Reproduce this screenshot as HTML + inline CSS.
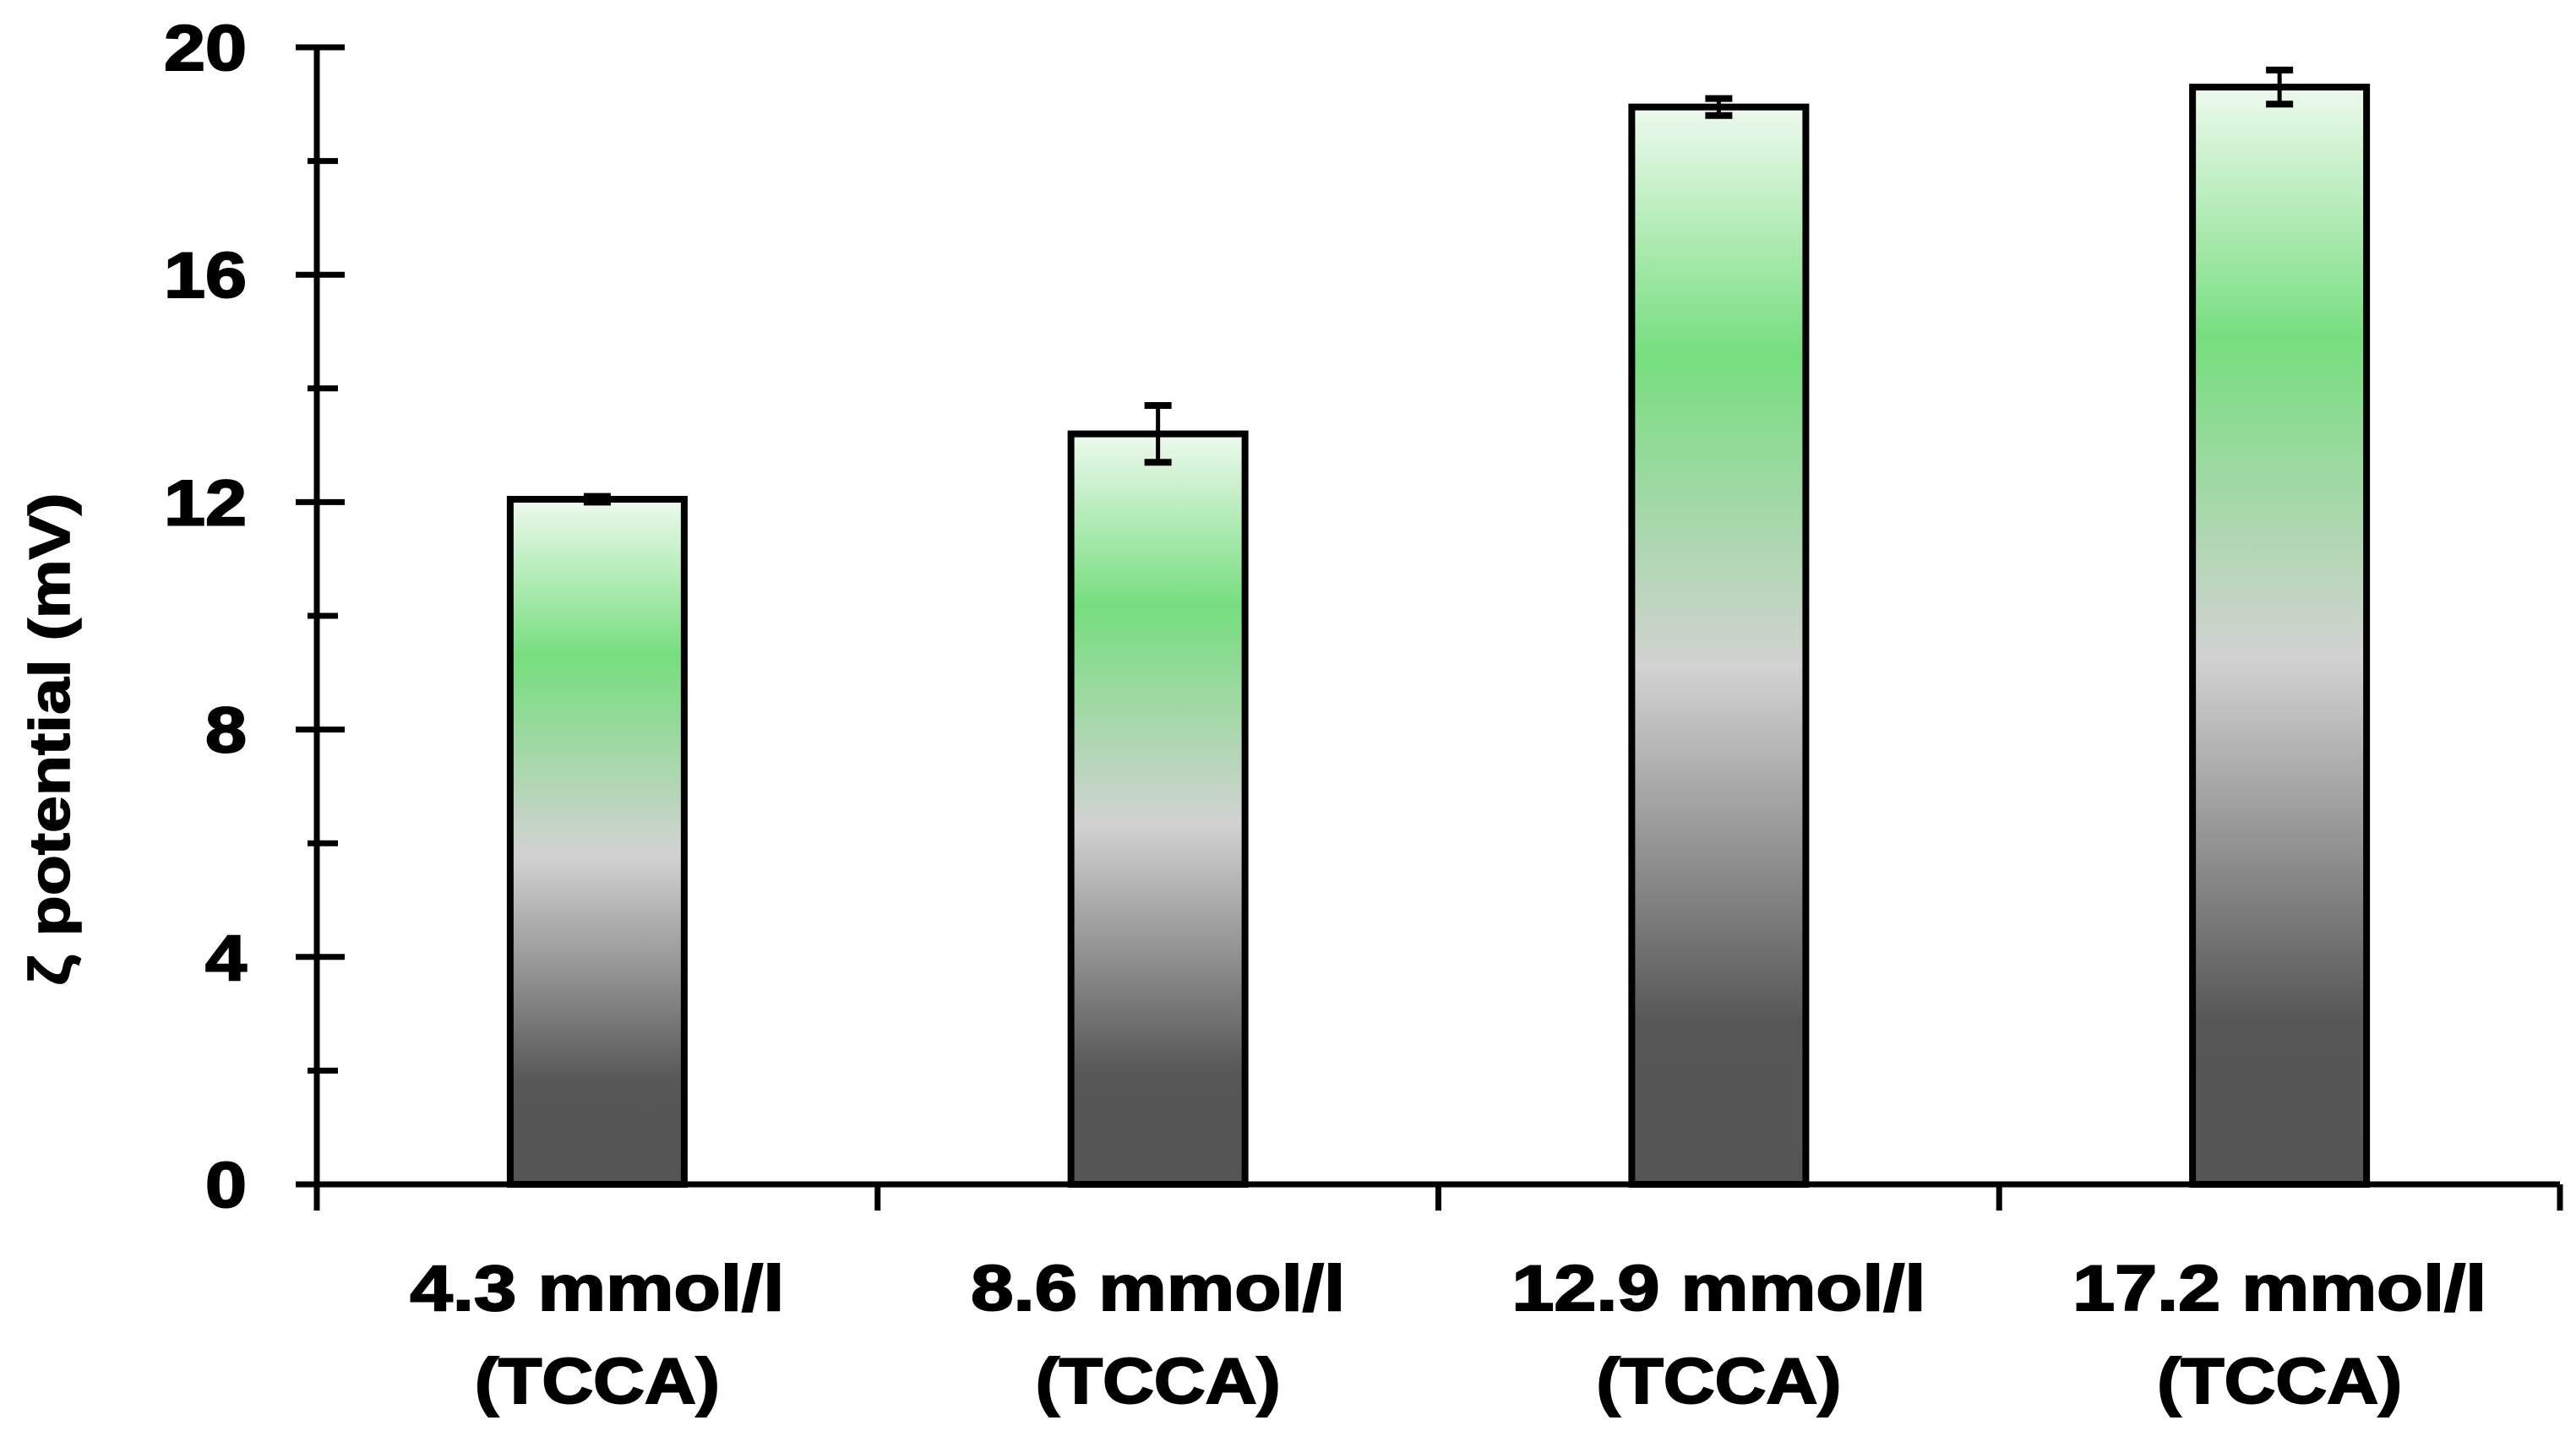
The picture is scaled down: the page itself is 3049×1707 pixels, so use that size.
<!DOCTYPE html>
<html><head><meta charset="utf-8"><style>
html,body{margin:0;padding:0;background:#fff;}
svg{display:block;font-family:"Liberation Sans",sans-serif;font-weight:bold;}
</style></head><body>
<svg id="chart" width="3049" height="1707" viewBox="0 0 3049 1707" xmlns="http://www.w3.org/2000/svg">
<defs>
<linearGradient id="barGrad" x1="0" y1="0" x2="0" y2="1">
<stop offset="0" stop-color="#eef9ee"/>
<stop offset="0.23" stop-color="#76de7e"/>
<stop offset="0.52" stop-color="#d2d2d2"/>
<stop offset="0.85" stop-color="#575757"/>
<stop offset="1" stop-color="#555555"/>
</linearGradient>
</defs>
<g id="bars"></g>
<g id="axes"></g>
<text transform="translate(82,875) rotate(-90)" text-anchor="middle" font-size="68" textLength="583" lengthAdjust="spacingAndGlyphs" stroke="#000" stroke-width="1.5">ζ potential (mV)</text>
</svg>
<script>
const categories = ["4.3 mmol/l", "8.6 mmol/l", "12.9 mmol/l", "17.2 mmol/l"];
const subLabels = ["(TCCA)", "(TCCA)", "(TCCA)", "(TCCA)"];
const values = [12.05, 13.2, 18.95, 19.3];
const errors = [0.05, 0.5, 0.15, 0.3];
const yTicks = [0, 4, 8, 12, 16, 20];
const yMinorTicks = [2, 6, 10, 14, 18];

const NS = "http://www.w3.org/2000/svg";
const x0 = 375, x1 = 3030, y0 = 1402, yTop = 56, yMax = 20;
const catW = (x1 - x0) / categories.length;
function yScale(v){ return y0 - (v / yMax) * (y0 - yTop); }
function xCenter(i){ return x0 + catW * (i + 0.5); }
function mk(tag, attrs, parent){ const e = document.createElementNS(NS, tag); for (const k in attrs) e.setAttribute(k, attrs[k]); parent.appendChild(e); return e; }

const bars = document.getElementById('bars');
const axes = document.getElementById('axes');
const bw = 206;
values.forEach((v, i) => {
  const cx = xCenter(i), yt = yScale(v);
  const r = mk('rect', {x: cx - bw/2, y: yt, width: bw, height: y0 - yt, fill: 'url(#barGrad)', stroke: '#000', 'stroke-width': 8}, bars);
  
  
  const e = errors[i], yh = yScale(v + e), yl = yScale(v - e);
  const g = mk('g', {stroke: '#000', 'stroke-width': 5}, bars);
  
  
  mk('line', {x1: cx, x2: cx, y1: yh, y2: yl}, g);
  mk('line', {x1: cx - 16, x2: cx + 16, y1: yh, y2: yh, 'stroke-width': 8}, g);
  mk('line', {x1: cx - 16, x2: cx + 16, y1: yl, y2: yl, 'stroke-width': 8}, g);
  const len1 = categories[i].length > 10 ? 490 : 443;
  const t1 = mk('text', {x: cx, y: 1551, 'text-anchor': 'middle', 'font-size': 76, textLength: len1, lengthAdjust: 'spacingAndGlyphs', stroke: '#000', 'stroke-width': 2}, axes);
  t1.textContent = categories[i];
  
  
  const t2 = mk('text', {x: cx, y: 1661, 'text-anchor': 'middle', 'font-size': 76, textLength: 290, lengthAdjust: 'spacingAndGlyphs', stroke: '#000', 'stroke-width': 2}, axes);
  t2.textContent = subLabels[i];
  
  
});

const ya = mk('line', {x1: x0, x2: x0, y1: yTop, y2: 1433, stroke: '#000', 'stroke-width': 7}, axes);


const xa = mk('line', {x1: x0 - 3, x2: x1, y1: y0, y2: y0, stroke: '#000', 'stroke-width': 7}, axes);


for (let i = 1; i <= categories.length; i++) {
  const xt = x0 + catW * i;
  const tk = mk('line', {x1: xt, x2: xt, y1: y0, y2: 1433, stroke: '#000', 'stroke-width': 7}, axes);
  
  
}
yTicks.forEach(v => {
  const y = yScale(v);
  const tk = mk('line', {x1: 350, x2: 408, y1: y, y2: y, stroke: '#000', 'stroke-width': 7}, axes);
  
  
  const s = String(v);
  const t = mk('text', {x: 292, y: y + 27, 'text-anchor': 'end', 'font-size': 76, textLength: s.length * 49, lengthAdjust: 'spacingAndGlyphs', stroke: '#000', 'stroke-width': 2}, axes);
  t.textContent = s;
  
  
});
yMinorTicks.forEach(v => {
  const y = yScale(v);
  const tk = mk('line', {x1: 364, x2: 400, y1: y, y2: y, stroke: '#000', 'stroke-width': 7}, axes);
  
  
});
</script>
</body></html>
